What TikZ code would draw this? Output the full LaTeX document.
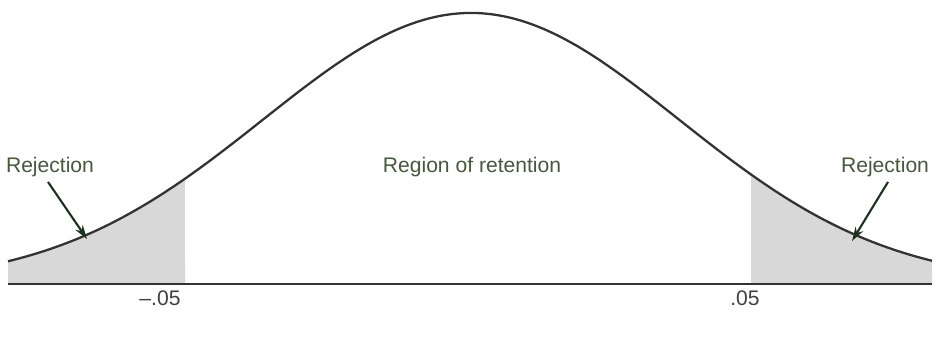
\documentclass[tikz,border=0pt]{standalone}
\usepackage{fontspec}
\setmainfont{Liberation Sans}
\usepackage{tikz}
\usetikzlibrary{arrows, arrows.meta, positioning, calc}
\definecolor{labgreen}{RGB}{72,88,62}
\definecolor{arrgreen}{RGB}{30,48,30}
\definecolor{tailgray}{RGB}{216,216,216}

\begin{document}
\begin{tikzpicture}[x=2cm, y=2cm,
    declare function={bell(\x)=0.52+2.71*exp(-((\x-4.71)^2)/(2*2.08^2));},
    every node/.style={font=\fontsize{12}{14}\selectfont, text=labgreen, inner sep=1pt},
    pointer/.style={-{Stealth[length=8pt, width=5pt]}, arrgreen, line width=1.2pt}]
    \useasboundingbox (0,0) rectangle (9.37,3.36);

    % shaded tails
    \fill[tailgray] (0.08,0.52) -- plot[domain=0.08:1.85, samples=40] (\x,{bell(\x)}) -- (1.85,0.52) -- cycle;
    \fill[tailgray] (7.51,0.52) -- plot[domain=7.51:9.32, samples=40] (\x,{bell(\x)}) -- (9.32,0.52) -- cycle;

    % curve and axis
    \draw[line width=1.3pt, black!80] plot[domain=0.08:9.32, samples=150, smooth] (\x,{bell(\x)});
    \draw[line width=1.7pt, black!80] (0.08,0.52) -- (9.32,0.52);

    \node (rejL) at (0.50,1.69) {Rejection};
    \node (rejR) at (8.85,1.69) {Rejection};
    \node (keep) at (4.72,1.69) {Region of retention};
    \node[text=black!75] (lo) at (1.60,0.38) {--.05};
    \node[text=black!75] (hi) at (7.45,0.38) {.05};

    \coordinate (tipL) at (0.87,0.97);
    \coordinate (tipR) at (8.52,0.95);
    \draw[pointer] (rejL.south) ++(-0.02,-0.03) -- (tipL);
    \draw[pointer] (rejR.south) ++(0.03,-0.03) -- (tipR);
\end{tikzpicture}
\end{document}
